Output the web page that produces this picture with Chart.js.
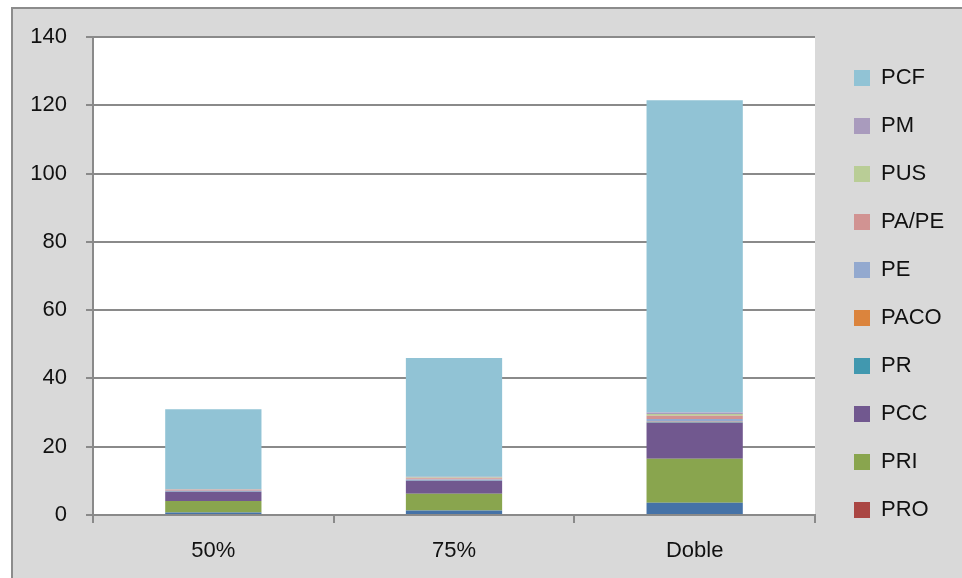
<!DOCTYPE html>
<html>
<head>
<meta charset="utf-8">
<script src="https://cdn.jsdelivr.net/npm/chart.js@4/dist/chart.umd.min.js"></script>
<style>
  html, body { margin: 0; padding: 0; background: #ffffff; }
  #wrap { width: 962px; height: 578px; }
</style>
</head>
<body>
<div id="wrap"><canvas id="c" width="962" height="578"></canvas></div>
<script>
// Categories along the x axis
const categories = ['50%', '75%', 'Doble'];

// Stacked series, bottom to top
const base  = [0.7, 1.3, 3.6];
const PRO   = [0, 0, 0];
const PRI   = [3.4, 4.9, 12.9];
const PCC   = [2.7, 3.8, 10.5];
const PR    = [0.1, 0.1, 0.2];
const PACO  = [0, 0, 0.1];
const PE    = [0.2, 0.3, 0.8];
const PAPE  = [0.3, 0.4, 1.0];
const PUS   = [0.1, 0.2, 0.5];
const PM    = [0.1, 0.2, 0.4];
const PCF   = [23.4, 34.8, 91.5];

// Y axis ticks
const yTicks = [0, 20, 40, 60, 80, 100, 120, 140];

const seriesNames  = ['Serie 1', 'PRO', 'PRI', 'PCC', 'PR', 'PACO', 'PE', 'PA/PE', 'PUS', 'PM', 'PCF'];
const seriesValues = [base, PRO, PRI, PCC, PR, PACO, PE, PAPE, PUS, PM, PCF];
const seriesColors = ['#4572A7', '#AA4643', '#89A54E', '#71588F', '#4198AF', '#DB843D',
                      '#93A9CF', '#D19392', '#B9CD96', '#A99BBD', '#91C3D5'];

const FONT = '"Liberation Sans", Arial, sans-serif';
const GRID = '#8a8a8a';

// Frame, grey chart background and white plot area
const backdrop = {
  id: 'backdrop',
  beforeDraw(chart) {
    const { ctx, width, height, chartArea } = chart;
    ctx.save();
    ctx.fillStyle = '#ffffff';
    ctx.fillRect(0, 0, width, height);
    ctx.fillStyle = '#d9d9d9';
    ctx.fillRect(11, 7, width, height);
    ctx.strokeStyle = '#8c8c8c';
    ctx.lineWidth = 2;
    ctx.strokeRect(12, 8, width + 20, height + 20);
    ctx.fillStyle = '#ffffff';
    ctx.fillRect(chartArea.left, chartArea.top, chartArea.right - chartArea.left, chartArea.bottom - chartArea.top);
    ctx.restore();
  }
};

// Fixed legend column on the right
const legendColumn = {
  id: 'legendColumn',
  beforeUpdate(chart) {
    const lg = chart.legend;
    if (lg && !lg._fixedWidth) {
      const fit = lg.fit;
      lg.fit = function () { fit.call(this); this.width = 147; };
      lg._fixedWidth = true;
    }
  },
  afterLayout(chart) {
    const lg = chart.legend;
    if (lg) { lg.left += 13; lg.right += 13; lg.top += 4; lg.bottom += 4; }
  }
};

new Chart(document.getElementById('c'), {
  type: 'bar',
  data: {
    labels: categories,
    datasets: seriesNames.map((name, i) => ({
      label: name,
      data: seriesValues[i],
      backgroundColor: seriesColors[i],
      borderWidth: 0,
      barPercentage: 0.4,
      categoryPercentage: 1.0
    }))
  },
  options: {
    responsive: false,
    animation: false,
    layout: { padding: { left: 0, right: 0, top: 37, bottom: 0 } },
    scales: {
      x: {
        stacked: true,
        offset: true,
        grid: { drawOnChartArea: false, drawTicks: true, tickLength: 8, color: GRID, lineWidth: 2, offset: true },
        border: { color: GRID, width: 2 },
        ticks: { color: '#111', font: { family: FONT, size: 22 }, padding: 15, maxRotation: 0 },
        afterFit(scale) { scale.height = 63; }
      },
      y: {
        stacked: true,
        min: 0,
        max: 140,
        afterBuildTicks(scale) { scale.ticks = yTicks.map(v => ({ value: v })); },
        grid: { color: GRID, lineWidth: 2, tickLength: 7, drawTicks: true },
        border: { color: GRID, width: 2 },
        ticks: { color: '#111', font: { family: FONT, size: 22 }, padding: 19 },
        afterFit(scale) { scale.width = 93; }
      }
    },
    plugins: {
      tooltip: { enabled: false },
      legend: {
        position: 'right',
        align: 'start',
        reverse: true,
        labels: {
          boxWidth: 16,
          boxHeight: 16,
          padding: 26,
          color: '#111',
          font: { family: FONT, size: 22 },
          filter: (item) => item.text !== 'Serie 1'
        }
      }
    }
  },
  plugins: [backdrop, legendColumn]
});
</script>
</body>
</html>
